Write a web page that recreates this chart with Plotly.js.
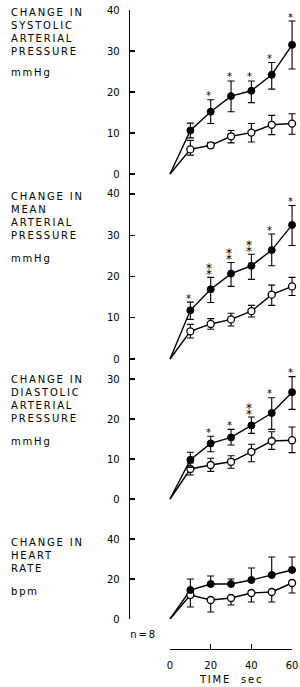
<!DOCTYPE html>
<html>
<head>
<meta charset="utf-8">
<script src="https://cdn.plot.ly/plotly-3.0.1.min.js"></script>
<style>
html,body{margin:0;padding:0;background:#fff;}
#chart{width:300px;height:687px;}
#chart .annotation-text{letter-spacing:1.8px;}
</style>
</head>
<body>
<div id="chart"></div>
<script>
// ---- data ----
var time = [10, 20, 30, 40, 50, 60];

// Systolic arterial pressure (mmHg)
var sysFilled   = [10.6, 15.2, 19.0, 20.3, 24.2, 31.5];
var sysFilledHi = [12.4, 18.1, 22.7, 22.7, 27.2, 37.3];
var sysFilledLo = [8.8, 12.3, 15.2, 17.4, 20.7, 25.6];
var sysOpen     = [6.0, 7.0, 9.2, 10.1, 12.0, 12.3];
var sysOpenHi   = [8.2, 7.7, 10.6, 12.3, 14.3, 14.7];
var sysOpenLo   = [4.6, 6.4, 7.6, 7.8, 9.6, 9.7];
var sysStars    = [0, 1, 1, 1, 1, 1];

// Mean arterial pressure (mmHg)
var meanFilled   = [11.8, 16.9, 20.7, 22.6, 26.4, 32.5];
var meanFilledHi = [13.8, 19.8, 23.4, 25.4, 30.3, 37.2];
var meanFilledLo = [9.6, 13.7, 17.6, 19.3, 22.6, 27.5];
var meanOpen     = [6.7, 8.5, 9.6, 11.6, 15.6, 17.6];
var meanOpenHi   = [8.4, 9.8, 11.1, 13.0, 17.9, 19.8];
var meanOpenLo   = [5.1, 7.2, 8.0, 10.2, 13.0, 15.4];
var meanStars    = [1, 2, 2, 2, 1, 1];

// Diastolic arterial pressure (mmHg)
var diaFilled   = [9.8, 13.9, 15.4, 18.4, 21.5, 26.7];
var diaFilledHi = [11.7, 15.7, 17.4, 20.5, 25.3, 30.6];
var diaFilledLo = [7.9, 11.8, 13.5, 16.4, 17.4, 22.4];
var diaOpen     = [7.5, 8.5, 9.3, 11.8, 14.5, 14.7];
var diaOpenHi   = [9.0, 10.2, 10.8, 13.7, 16.8, 18.0];
var diaOpenLo   = [6.0, 6.9, 7.7, 9.3, 12.4, 11.6];
var diaStars    = [0, 1, 1, 2, 1, 1];

// Heart rate (bpm)
var hrFilled   = [14.5, 17.5, 17.5, 19.5, 22.0, 24.5];
var hrFilledHi = [20.0, 21.5, 20.0, 25.5, 31.0, 31.0];
var hrFilledLo = [14.5, 17.5, 17.5, 19.5, 22.0, 24.5];
var hrOpen     = [12.0, 9.5, 10.5, 13.0, 13.5, 18.0];
var hrOpenHi   = [12.0, 9.5, 10.5, 13.0, 13.5, 18.0];
var hrOpenLo   = [6.0, 3.5, 7.0, 8.5, 8.5, 13.0];
var hrStars    = [0, 0, 0, 0, 0, 0];

var origin = [0];
var timeTicks = [0, 20, 40, 60];
var starGlyphs = ['', '*', '\u2051'];

var FONT = 'DejaVu Sans, sans-serif';
var panels = [
  {ax:'y',  f:sysFilled, fh:sysFilledHi, fl:sysFilledLo, o:sysOpen, oh:sysOpenHi, ol:sysOpenLo, s:sysStars},
  {ax:'y2', f:meanFilled, fh:meanFilledHi, fl:meanFilledLo, o:meanOpen, oh:meanOpenHi, ol:meanOpenLo, s:meanStars},
  {ax:'y3', f:diaFilled, fh:diaFilledHi, fl:diaFilledLo, o:diaOpen, oh:diaOpenHi, ol:diaOpenLo, s:diaStars},
  {ax:'y4', f:hrFilled, fh:hrFilledHi, fl:hrFilledLo, o:hrOpen, oh:hrOpenHi, ol:hrOpenLo, s:hrStars}
];

function diff(a, b) { return a.map(function(v, i){ return Math.max(0, v - b[i]); }); }

var traces = [];
var annotations = [];
panels.forEach(function(p) {
  traces.push({x: origin.concat(time), y: origin.concat(p.o), yaxis: p.ax, xaxis: 'x', mode: 'lines',
    line: {color: '#000', width: 1.4}, hoverinfo: 'skip', showlegend: false, cliponaxis: false});
  traces.push({x: origin.concat(time), y: origin.concat(p.f), yaxis: p.ax, xaxis: 'x', mode: 'lines',
    line: {color: '#000', width: 1.4}, hoverinfo: 'skip', showlegend: false, cliponaxis: false});
  traces.push({x: time, y: p.o, yaxis: p.ax, xaxis: 'x', mode: 'markers', showlegend: false, cliponaxis: false,
    marker: {symbol: 'circle', size: 7, color: '#fff', line: {color: '#000', width: 1.3}},
    error_y: {type: 'data', symmetric: false, array: diff(p.oh, p.o), arrayminus: diff(p.o, p.ol),
      color: '#000', thickness: 1.1, width: 3.5}});
  traces.push({x: time, y: p.f, yaxis: p.ax, xaxis: 'x', mode: 'markers', showlegend: false, cliponaxis: false,
    marker: {symbol: 'circle', size: 7, color: '#000', line: {color: '#000', width: 1}},
    error_y: {type: 'data', symmetric: false, array: diff(p.fh, p.f), arrayminus: diff(p.f, p.fl),
      color: '#000', thickness: 1.1, width: 3.5}});
  p.s.forEach(function(n, i) {
    if (n === 0) return;
    annotations.push({x: time[i], y: p.fh[i], xref: 'x', yref: p.ax, text: starGlyphs[n], showarrow: false,
      yshift: n === 1 ? 4 : 6.5, xshift: -1,
      font: {family: FONT, size: n === 1 ? 10 : 12, color: '#000'}, xanchor: 'center', yanchor: 'middle'});
  });
});

function py(px) { return (649 - px) / 639; }
function pxX(px) { return (px - 130) / 170; }

var labelFont = {family: FONT, size: 10, color: '#000'};
var labels = [
  {t: 'CHANGE IN<br>SYSTOLIC<br>ARTERIAL<br>PRESSURE', y: 32},
  {t: 'mmHg', y: 73},
  {t: 'CHANGE IN<br>MEAN<br>ARTERIAL<br>PRESSURE', y: 215.5},
  {t: 'mmHg', y: 258},
  {t: 'CHANGE IN<br>DIASTOLIC<br>ARTERIAL<br>PRESSURE', y: 399},
  {t: 'mmHg', y: 441},
  {t: 'CHANGE IN<br>HEART<br>RATE', y: 555},
  {t: 'bpm', y: 591}
];
labels.forEach(function(l) {
  annotations.push({x: pxX(9), y: py(l.y), xref: 'paper', yref: 'paper', text: l.t, showarrow: false,
    xanchor: 'left', yanchor: 'middle', align: 'left', font: labelFont});
});
annotations.push({x: pxX(131), y: py(634), xref: 'paper', yref: 'paper', text: 'n=8', showarrow: false,
  xanchor: 'left', yanchor: 'middle', font: labelFont});
annotations.push({x: pxX(231), y: py(679), xref: 'paper', yref: 'paper', text: 'TIME&nbsp;&nbsp;sec', showarrow: false,
  xanchor: 'center', yanchor: 'middle', font: labelFont});

function yax(domain, range, dtick) {
  return {domain: domain, range: range, dtick: dtick, tick0: 0, showline: true, linecolor: '#000', linewidth: 1.3,
    ticks: 'inside', ticklen: 5, tickwidth: 1.3, tickcolor: '#000', showgrid: false, zeroline: false,
    ticklabelstandoff: 7, tickfont: {family: FONT, size: 10, color: '#000'}, fixedrange: true, anchor: 'x'};
}

var layout = {
  width: 300, height: 687,
  margin: {l: 130, r: 0, t: 10, b: 38},
  paper_bgcolor: '#fff', plot_bgcolor: '#fff',
  showlegend: false,
  xaxis: {domain: [0, 1], range: [-19.67, 63.9], visible: false, fixedrange: true, anchor: 'y4'},
  xaxis2: {domain: [pxX(170), pxX(292)], range: [0, 60], tickmode: 'array', tickvals: timeTicks,
    anchor: 'y5',
    showline: true, linecolor: '#000', linewidth: 1.3, ticks: 'inside', ticklen: 5, tickwidth: 1.3,
    tickcolor: '#000', showgrid: false, zeroline: false, ticklabelstandoff: 7,
    tickfont: {family: FONT, size: 10, color: '#000'}, fixedrange: true},
  yaxis:  yax([py(184), 1], [-2.44, 40], 10),
  yaxis2: yax([py(369), py(184)], [-2.42, 42.42], 10),
  yaxis3: yax([py(529), py(369)], [-7.5, 32.5], 10),
  yaxis4: yax([py(619), py(529)], [0, 45], 20),
  yaxis5: {domain: [0, 0.02], range: [0, 1], visible: false, fixedrange: true, anchor: 'x2'},
  annotations: annotations
};

// invisible trace that only makes the time axis subplot exist
traces.push({x: [0, 60], y: [0, 0], xaxis: 'x2', yaxis: 'y5', mode: 'markers', marker: {opacity: 0},
  hoverinfo: 'skip', showlegend: false});

Plotly.newPlot('chart', traces, layout, {displayModeBar: false, staticPlot: true});
</script>
</body>
</html>
